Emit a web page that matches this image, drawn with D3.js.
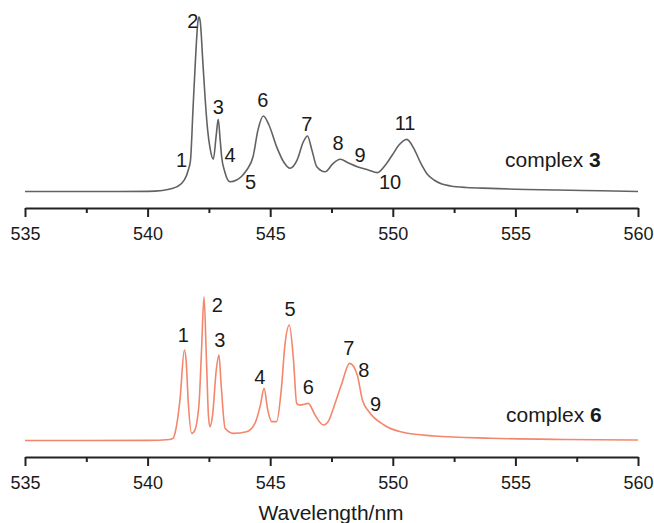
<!DOCTYPE html>
<html>
<head>
<meta charset="utf-8">
<script src="https://cdn.jsdelivr.net/npm/d3@7"></script>
<style>
  body { margin: 0; background: #fff; }
  text { font-family: "Liberation Sans", Arial, sans-serif; fill: #1a1a1a; }
</style>
</head>
<body>
<div id="chart"></div>
<script>
/* spectra (wavelength in nm, intensity in arbitrary units) */
var wl3 = [535, 538, 540.0, 540.6, 541.0, 541.2, 541.5, 541.66, 541.75, 541.85, 541.95, 542.05, 542.1,
  542.15, 542.25, 542.35, 542.45, 542.55, 542.68, 542.8, 542.88, 542.96, 543.02, 543.15, 543.36,
  543.63, 543.85, 544.04, 544.3, 544.5, 544.72, 544.95, 545.26, 545.55, 545.81, 546.1, 546.35,
  546.52, 546.7, 546.9, 547.24, 547.55, 547.85, 548.2, 548.55, 549.0, 549.37, 549.7, 549.98,
  550.25, 550.57, 550.85, 551.14, 551.4, 551.68, 552.0, 552.36, 553.0, 553.99, 555.0, 556.7, 558.5, 560];
var int3 = [0, 0, 0.1, 0.6, 1.7, 2.8, 6.6, 12.3, 18, 46.7, 75, 97, 100,
  97, 75, 52.6, 35, 24.6, 18.5, 32.4, 41.4, 29.5, 19.9, 11.2, 5.6,
  6.6, 8.9, 12.3, 19.9, 35.2, 43.3, 38.1, 25.7, 16.9, 13.3, 18.1, 28.4,
  31.8, 23.8, 14.2, 11.3, 15.8, 18.5, 16.3, 14.2, 12.3, 10.8, 15.2, 20.9,
  26.6, 29.9, 24.9, 16.2, 10.0, 6.6, 4.3, 3.2, 2.3, 1.8, 1.3, 0.9, 0.4, 0];

var wl6 = [535, 540.0, 540.9, 541.05, 541.12, 541.32, 541.5, 541.57, 541.66, 541.8, 541.93, 542.05,
  542.1, 542.2, 542.3, 542.4, 542.48, 542.54, 542.65, 542.8, 542.91, 543.0, 543.16, 543.5, 544.04,
  544.38, 544.6, 544.75, 544.9, 545.06, 545.26, 545.45, 545.6, 545.78, 545.95, 546.08, 546.22,
  546.55, 546.83, 547.17, 547.4, 547.6, 547.9, 548.24, 548.55, 548.76, 549.03, 549.64, 550.32,
  551.68, 553.99, 557, 560];
var int6 = [0, 0.1, 0.6, 1.4, 4.3, 23.2, 51.9, 46.1, 21.5, 4.1, 6.0, 14.6,
  21.5, 51.9, 82.4, 46.1, 14.6, 7.9, 14.6, 40.4, 49.0, 31.8, 7.0, 4.1, 5.0,
  9.9, 20.3, 29.9, 17.5, 10.8, 10.8, 28.9, 54.7, 66.2, 46.1, 21.3, 20.3,
  21.3, 14.6, 8.9, 11.7, 19.4, 31.8, 44.2, 37.5, 23.2, 16.5, 8.9, 5.0,
  2.6, 1.3, 0.6, 0.3];

/* peak numbers: [label, wavelength, intensity at the label baseline] */
var peaks3 = [["1", 541.39, 14.0], ["2", 541.84, 93.7], ["3", 542.88, 44.6], ["4", 543.36, 16.9],
  ["5", 544.2, 1.6], ["6", 544.7, 48.4], ["7", 546.49, 34.7], ["8", 547.77, 23.6], ["9", 548.66, 16.9],
  ["10", 549.89, 1.6], ["11", 550.5, 35.4]];
var peaks6 = [["1", 541.46, 56.4], ["2", 542.84, 73.6], ["3", 542.95, 53.6], ["4", 544.58, 32.6],
  ["5", 545.81, 71.2], ["6", 546.55, 26.8], ["7", 548.21, 48.8], ["8", 548.82, 36.4], ["9", 549.3, 16.9]];

var majorTicks = [535, 540, 545, 550, 555, 560];
var minorTicks = [537.5, 542.5, 547.5, 552.5, 557.5];

/* size and style */
var width = 654, height = 523;
var lineColor3 = '#626262', lineColor6 = '#f4866c';

var svg = d3.select('#chart').append('svg')
  .attr('width', width)
  .attr('height', height);

var x = d3.scaleLinear().domain([535, 560]).range([25, 638]);

function drawPanel(wl, ints, peaks, axisY, baseY, color, name, num, nameX, nameY) {
  var y = d3.scaleLinear().domain([0, 100]).range([baseY, baseY - 174.5]);

  /* minor ticks */
  svg.append('g')
    .attr('transform', 'translate(0,' + axisY + ')')
    .call(d3.axisBottom(x).tickValues(minorTicks).tickSize(5).tickFormat(''))
    .call(function(g) { g.select('.domain').remove(); })
    .selectAll('line').attr('stroke', '#222').attr('stroke-width', 2);

  /* major ticks with labels */
  var ax = svg.append('g')
    .attr('transform', 'translate(0,' + axisY + ')')
    .call(d3.axisBottom(x).tickValues(majorTicks).tickSize(9).tickSizeOuter(0).tickPadding(10).tickFormat(d3.format('d')));
  ax.select('.domain').attr('stroke', '#222').attr('stroke-width', 2);
  ax.selectAll('line').attr('stroke', '#222').attr('stroke-width', 2);
  ax.selectAll('text')
    .style('font-size', '18px')
    .style('font-family', '"Liberation Sans", Arial, sans-serif')
    .attr('fill', '#1a1a1a');

  /* spectrum */
  var line = d3.line()
    .x(function(d, i) { return x(wl[i]); })
    .y(function(d) { return y(d); })
    .curve(d3.curveMonotoneX);
  svg.append('path')
    .datum(ints)
    .attr('fill', 'none')
    .attr('stroke', color)
    .attr('stroke-width', 1.6)
    .attr('d', line);

  /* peak numbers */
  svg.selectAll(null)
    .data(peaks)
    .enter().append('text')
    .attr('x', function(d) { return x(d[1]); })
    .attr('y', function(d) { return y(d[2]); })
    .attr('text-anchor', 'middle')
    .style('font-size', '20px')
    .text(function(d) { return d[0]; });

  /* sample name */
  var t = svg.append('text')
    .attr('x', nameX)
    .attr('y', nameY)
    .style('font-size', '21px');
  t.append('tspan').text(name + ' ');
  t.append('tspan').style('font-weight', 'bold').text(num);
}

drawPanel(wl3, int3, peaks3, 208, 191.5, lineColor3, 'complex', '3', 505, 167);
drawPanel(wl6, int6, peaks6, 457, 440.5, lineColor6, 'complex', '6', 506, 422);

svg.append('text')
  .attr('x', 331)
  .attr('y', 520)
  .attr('text-anchor', 'middle')
  .style('font-size', '21px')
  .text('Wavelength/nm');
</script>
</body>
</html>
